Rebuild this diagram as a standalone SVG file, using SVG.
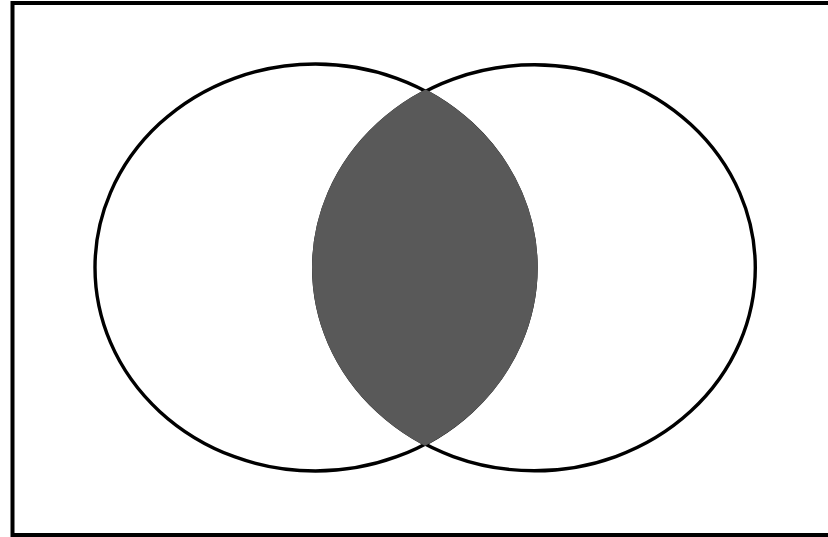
<svg xmlns="http://www.w3.org/2000/svg" width="828" height="537" viewBox="0 0 828 537">
  <style>
    .set { fill: none; stroke: #000; stroke-width: 3.4; }
    .lens { fill: #595959; stroke: none; }
  </style>
  <defs>
    <clipPath id="clipA">
      <ellipse cx="315.5" cy="267.5" rx="222.2" ry="205.2"/>
    </clipPath>
  </defs>
  <rect x="0" y="0" width="828" height="537" fill="#fff"/>
  <rect id="frame" x="12.5" y="3" width="820" height="532" fill="none" stroke="#000" stroke-width="4"/>
  <g id="setA">
    <ellipse class="set" cx="315.5" cy="267.5" rx="220.5" ry="203.5"/>
  </g>
  <g id="setB">
    <ellipse class="set" cx="534.5" cy="267.8" rx="220.8" ry="203"/>
  </g>
  <g id="intersection">
    <ellipse class="lens" cx="534.5" cy="267.8" rx="222.5" ry="204.7" clip-path="url(#clipA)"/>
  </g>
</svg>
